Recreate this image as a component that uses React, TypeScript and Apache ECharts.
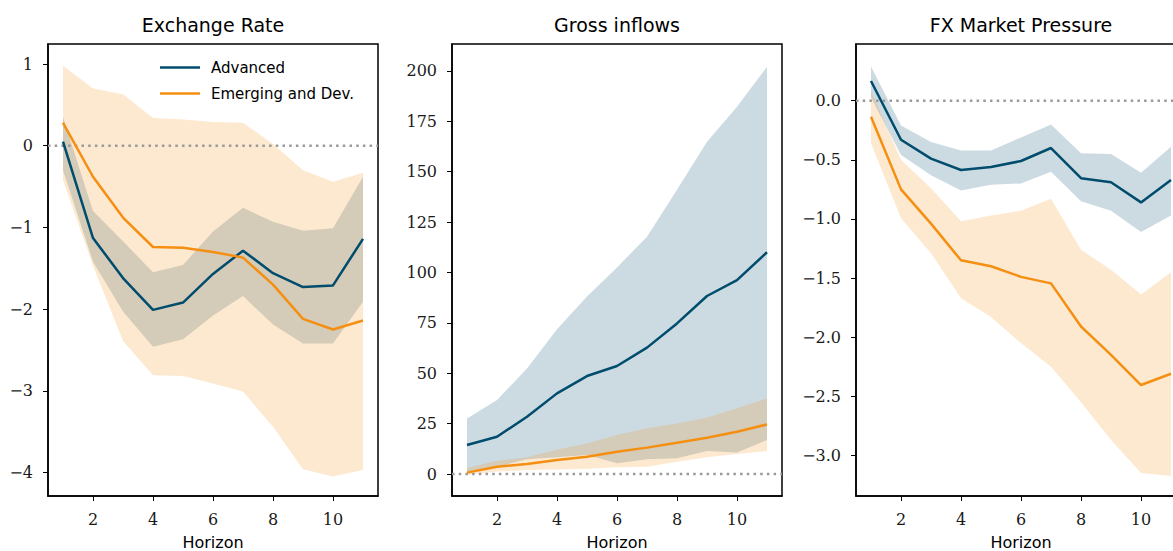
import React, { useEffect, useRef } from "react";
import * as echarts from "echarts";

// Horizons (x values) and tick positions
const horizons = [1, 2, 3, 4, 5, 6, 7, 8, 9, 10, 11];
const xTicks = [2, 4, 6, 8, 10];
const xRange = [0.5, 11.5];

// Panel titles
const titles = ["Exchange Rate", "Gross inflows", "FX Market Pressure"];
const seriesNames = ["Advanced", "Emerging and Dev."];

// Exchange Rate
const erAdv = [0.05, -1.13, -1.62, -2.01, -1.92, -1.57, -1.285, -1.56, -1.73, -1.71, -1.14];
const erAdvLo = [-0.3, -1.42, -2.03, -2.46, -2.37, -2.08, -1.84, -2.19, -2.42, -2.42, -1.91];
const erAdvHi = [0.35, -0.8, -1.17, -1.55, -1.46, -1.05, -0.76, -0.93, -1.04, -1.01, -0.38];
const erEm = [0.28, -0.38, -0.88, -1.24, -1.25, -1.3, -1.37, -1.7, -2.12, -2.25, -2.14];
const erEmLo = [-0.42, -1.47, -2.39, -2.81, -2.82, -2.91, -3.01, -3.44, -3.96, -4.05, -3.97];
const erEmHi = [0.98, 0.7, 0.63, 0.34, 0.32, 0.29, 0.28, 0.02, -0.3, -0.44, -0.33];
const erTicks = [-4, -3, -2, -1, 0, 1];

// Gross inflows
const giAdv = [14.4, 18.5, 28.4, 40.0, 48.6, 53.6, 62.7, 74.7, 88.3, 96.2, 110.0];
const giAdvLo = [1.2, 3.6, 7.3, 8.3, 9.4, 5.3, 7.3, 7.8, 11.4, 10.7, 16.9];
const giAdvHi = [27.6, 36.7, 52.4, 71.8, 88.0, 102.5, 117.7, 141.0, 164.8, 182.2, 202.0];
const giEm = [0.7, 3.6, 5.0, 6.9, 8.6, 11.1, 13.1, 15.5, 18.0, 21.0, 24.6];
const giEmLo = [-0.5, 1.2, 2.0, 2.3, 2.6, 3.3, 3.6, 6.1, 8.3, 9.9, 11.4];
const giEmHi = [3.0, 6.6, 8.3, 12.2, 15.2, 19.3, 22.7, 25.1, 28.0, 32.6, 37.5];
const giTicks = [0, 25, 50, 75, 100, 125, 150, 175, 200];

// FX Market Pressure
const fxAdv = [0.167, -0.33, -0.49, -0.586, -0.56, -0.51, -0.4, -0.655, -0.69, -0.86, -0.67];
const fxAdvLo = [0.03, -0.46, -0.63, -0.76, -0.71, -0.7, -0.6, -0.85, -0.93, -1.11, -0.97];
const fxAdvHi = [0.29, -0.21, -0.35, -0.42, -0.42, -0.31, -0.2, -0.445, -0.45, -0.61, -0.39];
const fxEm = [-0.135, -0.75, -1.04, -1.35, -1.4, -1.49, -1.545, -1.91, -2.15, -2.405, -2.31];
const fxEmLo = [-0.36, -0.995, -1.29, -1.67, -1.83, -2.05, -2.25, -2.55, -2.87, -3.15, -3.175];
const fxEmHi = [0.08, -0.5, -0.74, -1.02, -0.97, -0.93, -0.83, -1.26, -1.43, -1.64, -1.45];
const fxTicks = [-3, -2.5, -2, -1.5, -1, -0.5, 0];

const BLUE = "#004c6d";
const ORANGE = "#f58f12";
const BLUE_BAND = "rgba(0,76,109,0.2)";
const ORANGE_BAND = "rgba(245,143,18,0.2)";

const SANS = "DejaVu Sans";
const SERIF = "DejaVu Serif";

const fmt = (digits: number) => (v: number) => {
  const s = Math.abs(v).toFixed(digits);
  return v < -1e-9 ? "\u2212" + s : s;
};

const panels = [
  { adv: erAdv, advLo: erAdvLo, advHi: erAdvHi, em: erEm, emLo: erEmLo, emHi: erEmHi, ticks: erTicks, min: -4.288, max: 1.245, digits: 0, left: 48 },
  { adv: giAdv, advLo: giAdvLo, advHi: giAdvHi, em: giEm, emLo: giEmLo, emHi: giEmHi, ticks: giTicks, min: -10.9, max: 213.3, digits: 0, left: 452 },
  { adv: fxAdv, advLo: fxAdvLo, advHi: fxAdvHi, em: fxEm, emLo: fxEmLo, emHi: fxEmHi, ticks: fxTicks, min: -3.344, max: 0.48, digits: 1, left: 856 },
];

function bandSeries(idx: number, lo: number[], hi: number[], color: string) {
  const rows = horizons.map((x, i) => [x, lo[i], hi[i]]);
  return {
    type: "custom",
    xAxisIndex: idx,
    yAxisIndex: idx,
    silent: true,
    clip: true,
    z: 1,
    encode: { x: 0, y: [1, 2] },
    data: rows,
    renderItem: (params: any, api: any) => {
      if (params.dataIndex !== 0) return null;
      const upper = rows.map((r) => api.coord([r[0], r[2]]));
      const lower = rows.map((r) => api.coord([r[0], r[1]])).reverse();
      return {
        type: "polygon",
        shape: { points: upper.concat(lower) },
        style: { fill: color, stroke: "none" },
      };
    },
  };
}

export default function App() {
  const ref = useRef<HTMLDivElement>(null);

  useEffect(() => {
    if (!ref.current) return;
    const chart = echarts.init(ref.current, undefined, { renderer: "svg" });

    const grids = panels.map((p) => ({
      left: p.left,
      top: 44,
      width: 330,
      height: 452,
      outerBoundsMode: "none",
      containLabel: false,
      show: true,
      borderColor: "#000",
      borderWidth: 1.5,
      backgroundColor: "transparent",
    }));

    const xAxes = panels.map((p, i) => ({
      type: "value",
      gridIndex: i,
      min: xRange[0],
      max: xRange[1],
      name: "Horizon",
      nameLocation: "middle",
      nameGap: 38,
      nameTextStyle: { fontFamily: SANS, fontSize: 16, lineHeight: 16, color: "#000" },
      axisLine: { show: true, onZero: false, lineStyle: { color: "#000", width: 1.5 } },
      axisTick: { show: true, inside: false, length: 5, customValues: xTicks, lineStyle: { color: "#000", width: 1 } },
      axisLabel: { customValues: xTicks, margin: 15, fontFamily: SERIF, fontSize: 16, color: "#1a1a1a" },
      splitLine: { show: false },
    }));

    const yAxes = panels.map((p, i) => ({
      type: "value",
      gridIndex: i,
      min: p.min,
      max: p.max,
      axisLine: { show: true, onZero: false, lineStyle: { color: "#000", width: 1.5 } },
      axisTick: { show: true, inside: false, length: 5, customValues: p.ticks, lineStyle: { color: "#000", width: 1 } },
      axisLabel: { customValues: p.ticks, margin: 15, fontFamily: SERIF, fontSize: 16, color: "#1a1a1a", formatter: fmt(p.digits) },
      splitLine: { show: false },
    }));

    const series: any[] = [];
    panels.forEach((p, i) => {
      series.push(bandSeries(i, p.advLo, p.advHi, BLUE_BAND));
      series.push(bandSeries(i, p.emLo, p.emHi, ORANGE_BAND));
      // zero reference line
      series.push({
        type: "line",
        name: "zero" + i,
        xAxisIndex: i,
        yAxisIndex: i,
        data: [[xRange[0], 0], [xRange[1], 0]],
        symbol: "none",
        silent: true,
        z: 3,
        lineStyle: { color: "#9a9a9a", width: 2.5, type: [2.5, 4.2] },
        emphasis: { disabled: true },
      });
      series.push({
        type: "line",
        name: seriesNames[0],
        xAxisIndex: i,
        yAxisIndex: i,
        data: horizons.map((x, k) => [x, p.adv[k]]),
        symbol: "none",
        color: BLUE,
        lineStyle: { color: BLUE, width: 2.5 },
        emphasis: { disabled: true },
        z: 5,
      });
      series.push({
        type: "line",
        name: seriesNames[1],
        xAxisIndex: i,
        yAxisIndex: i,
        data: horizons.map((x, k) => [x, p.em[k]]),
        symbol: "none",
        color: ORANGE,
        lineStyle: { color: ORANGE, width: 2.5 },
        emphasis: { disabled: true },
        z: 5,
      });
    });

    chart.setOption({
      animation: false,
      backgroundColor: "#fff",
      title: titles.map((t, i) => ({
        text: t,
        left: panels[i].left + 165,
        top: 15,
        textAlign: "center",
        padding: 0,
        textStyle: { fontFamily: SANS, fontSize: 19, fontWeight: "normal", color: "#000" },
      })),
      legend: {
        data: seriesNames,
        orient: "vertical",
        left: 160,
        top: 60,
        itemWidth: 40,
        itemHeight: 2.5,
        itemGap: 11,
        icon: "rect",
        padding: 0,
        textStyle: { fontFamily: SANS, fontSize: 15, color: "#000", padding: [0, 0, 0, 6] },
      },
      grid: grids,
      xAxis: xAxes,
      yAxis: yAxes,
      series,
    });

    return () => chart.dispose();
  }, []);

  return <div ref={ref} style={{ position: "absolute", left: 0, top: 0, width: 1173, height: 551 }} />;
}
